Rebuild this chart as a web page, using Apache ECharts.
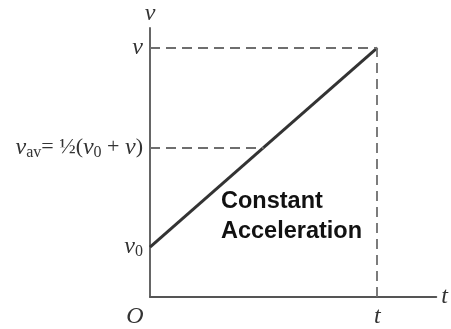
<!DOCTYPE html>
<html>
<head>
<meta charset="utf-8">
<script src="https://cdn.jsdelivr.net/npm/echarts@6/dist/echarts.min.js"></script>
<style>
  html, body { margin: 0; padding: 0; background: #fff; }
  #main { width: 451px; height: 329px; }
</style>
</head>
<body>
<div id="main"></div>
<script>
// time t and speeds (arbitrary units)
var tEnd = 10;
var v0 = 2;
var vEnd = 10;
var vAv = (v0 + vEnd) / 2;
var linePoints = [[0, v0], [tEnd, vEnd]];
var yTicks = [v0, vAv, vEnd];
var xTicks = [0, tEnd];

var chart = echarts.init(document.getElementById('main'), null, { renderer: 'canvas' });

var mathFont = '"Liberation Serif", "DejaVu Serif", serif';
var dash = { color: '#6e6e6e', width: 1.8, type: [10, 6] };

var option = {
  backgroundColor: '#fff',
  animation: false,
  grid: { left: 150, top: 28, right: 13, bottom: 31 },
  xAxis: {
    type: 'value',
    min: 0,
    max: 12.6,
    name: 't',
    nameGap: 5,
    nameTextStyle: { fontFamily: mathFont, fontStyle: 'italic', fontSize: 24, color: '#333' },
    splitLine: { show: false },
    axisTick: { show: false },
    axisLine: { lineStyle: { color: '#555', width: 1.8 } },
    axisLabel: {
      customValues: xTicks,
      margin: 8,
      fontFamily: mathFont,
      fontStyle: 'italic',
      fontSize: 24,
      color: '#333',
      formatter: function (v) { return v === 0 ? '{o|O}' : 't'; },
      rich: { o: { fontFamily: mathFont, fontStyle: 'italic', fontSize: 24, color: '#333', padding: [0, 30, 0, 0] } }
    }
  },
  yAxis: {
    type: 'value',
    min: 0,
    max: 10.8,
    name: 'v',
    nameGap: 2,
    nameLocation: 'end',
    nameTextStyle: { fontFamily: mathFont, fontStyle: 'italic', fontSize: 24, color: '#333', align: 'center' },
    splitLine: { show: false },
    axisTick: { show: false },
    axisLine: { lineStyle: { color: '#555', width: 1.8 } },
    axisLabel: {
      customValues: yTicks,
      margin: 7,
      color: '#333',
      fontFamily: mathFont,
      fontStyle: 'italic',
      fontSize: 24,
      formatter: function (v) {
        if (v === v0) return '{v|v}{s|0}';
        if (v === vEnd) return '{v|v}';
        return '{v|v}{s|av}{n|= }{f|½}{n|(}{v|v}{s|0}{n| + }{v|v}{n|)}';
      },
      rich: {
        v: { fontFamily: mathFont, fontStyle: 'italic', fontSize: 24, color: '#333' },
        s: { fontFamily: mathFont, fontStyle: 'normal', fontSize: 16, color: '#333', verticalAlign: 'bottom', padding: [10, 0, 0, 0] },
        n: { fontFamily: mathFont, fontStyle: 'normal', fontSize: 22, color: '#333' },
        f: { fontFamily: mathFont, fontStyle: 'normal', fontSize: 22, color: '#333' }
      }
    }
  },
  graphic: [{
    type: 'text',
    left: 221,
    top: 187,
    style: {
      text: 'Constant\nAcceleration',
      font: 'bold 23.5px "Liberation Sans", Arial, sans-serif',
      lineHeight: 30,
      fill: '#111'
    }
  }],
  series: [{
    type: 'line',
    data: linePoints,
    symbol: 'none',
    lineStyle: { color: '#333', width: 3 },
    z: 3,
    markLine: {
      silent: true,
      symbol: ['none', 'none'],
      label: { show: false },
      lineStyle: dash,
      data: [
        [{ coord: [0, vEnd] }, { coord: [tEnd, vEnd] }],
        [{ coord: [0, vAv] }, { coord: [tEnd / 2, vAv] }],
        [{ coord: [tEnd, 0] }, { coord: [tEnd, vEnd] }]
      ]
    }
  }]
};

chart.setOption(option);
</script>
</body>
</html>
